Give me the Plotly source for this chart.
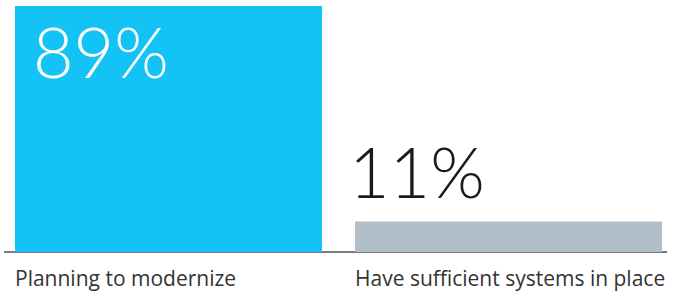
import plotly.graph_objects as go

categories = ["Planning to modernize", "Have sufficient systems in place"]
values = [89, 11]
value_labels = ["89%", "11%"]
colors = ["#14C3F5", "#B1BFC9"]

BAR_W = 307 / 340
x_pos = list(range(len(categories)))

fig = go.Figure(go.Bar(x=x_pos, y=values, width=BAR_W, marker=dict(color=colors, line=dict(width=0)),
                       hoverinfo="skip"))

for i, (v, lab, cat) in enumerate(zip(values, value_labels, categories)):
    left = i - BAR_W / 2
    inside = v > 50
    fig.add_annotation(x=left, y=v, xref="x", yref="y", text=lab, showarrow=False,
                       xanchor="left", yanchor="top" if inside else "bottom",
                       xshift=16 if inside else -8, yshift=-1 if inside else 7,
                       font=dict(family="Lato", size=70, weight=300,
                                 color="white" if inside else "#1a1a1a"))
    fig.add_annotation(x=left, y=0, xref="x", yref="y", text=cat, showarrow=False,
                       xanchor="left", yanchor="top", xshift=-2, yshift=-10,
                       font=dict(family="Open Sans", size=21, color="#333333"))

fig.update_layout(
    width=681, height=292,
    margin=dict(l=4, r=14, t=6, b=40),
    paper_bgcolor="white", plot_bgcolor="white",
    showlegend=False,
    xaxis=dict(range=[(4 - 168.5) / 340, (667 - 168.5) / 340], visible=False, fixedrange=True),
    yaxis=dict(range=[0, 89], showgrid=False, showticklabels=False, zeroline=True,
               zerolinecolor="#7a7a7a", zerolinewidth=2, fixedrange=True),
)

fig.write_html("out.html", config={"displayModeBar": False},
               post_script="document.body.style.margin='0px';document.body.style.overflow='hidden';")
